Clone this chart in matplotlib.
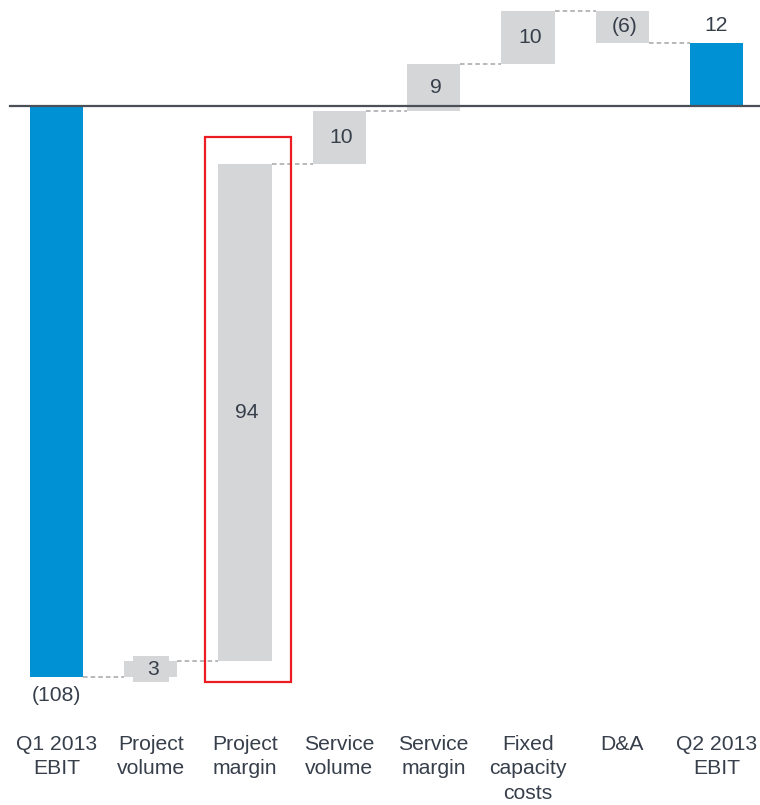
import numpy as np
import matplotlib
matplotlib.use("Agg")
import matplotlib.pyplot as plt
from matplotlib.patches import Rectangle

plt.rcParams['font.family'] = ['Liberation Sans', 'DejaVu Sans']

# ---- data ----
categories = ["Q1 2013\nEBIT", "Project\nvolume", "Project\nmargin", "Service\nvolume",
              "Service\nmargin", "Fixed\ncapacity\ncosts", "D&A", "Q2 2013\nEBIT"]
start_value = -108
deltas = [3, 94, 10, 9, 10, -6]
end_value = 12
value_labels = ["(108)", "3", "94", "10", "9", "10", "(6)", "12"]

BLUE = "#0091d5"
GREY = "#d5d6d8"
TEXT = "#373f4b"
RED = "#ec1c24"

# bar spans (bottom, top)
bottoms, tops = [min(0, start_value)], [max(0, start_value)]
level = start_value
for d in deltas:
    bottoms.append(min(level, level + d))
    tops.append(max(level, level + d))
    level += d
bottoms.append(min(0, end_value))
tops.append(max(0, end_value))
bottoms, tops = np.array(bottoms), np.array(tops)
levels = np.concatenate([[start_value], start_value + np.cumsum(deltas), [end_value]])

x = np.arange(len(categories))
colors = [BLUE] + [GREY] * len(deltas) + [BLUE]
width = 0.565

fig = plt.figure(figsize=(7.6, 8.05), dpi=100)
ax = fig.add_axes([0, 85 / 805, 1, 720 / 805])
ax.set_xlim(-0.599, 7.46)
ax.set_ylim(-116.1, 20.05)

ax.bar(x, tops - bottoms, bottom=bottoms, width=width, color=colors, zorder=2)
ax.axhline(0, xmin=10 / 760, xmax=1, color="#4b5058", lw=1.6, zorder=3)

# dashed connectors between steps
for i in range(len(x) - 1):
    ax.plot([x[i] + width / 2, x[i + 1] - width / 2], [levels[i], levels[i]],
            ls=(0, (3, 2)), color="#a5a6a8", lw=1.1, zorder=1)

# small step gets a taller backing tile so its label fits
ax.add_patch(Rectangle((x[1] - 0.19, bottoms[1] - 0.95), 0.38, tops[1] - bottoms[1] + 1.9,
                       facecolor=GREY, edgecolor="none", zorder=2))

fs = 15.2
ax.text(x[0], bottoms[0] - 3.4, value_labels[0], ha="center", va="center", fontsize=fs, color=TEXT)
for i in range(1, 7):
    ax.text(x[i] + 0.02, (bottoms[i] + tops[i]) / 2, value_labels[i], ha="center", va="center",
            fontsize=fs, color=TEXT, zorder=4)
ax.text(x[7], tops[7] + 3.2, value_labels[7], ha="center", va="center", fontsize=fs, color=TEXT)

# highlight box round the project margin step
ax.add_patch(Rectangle((1.575, bottoms[1] - 0.95), 0.912, tops[2] - bottoms[1] + 6.08,
                       fill=False, edgecolor=RED, lw=1.6, zorder=5))

ax.set_xticks(x)
ax.set_xticklabels(categories, fontsize=fs, color=TEXT, linespacing=1.39)
ax.tick_params(axis="x", length=0, pad=10.5)
ax.set_yticks([])
for s in ax.spines.values():
    s.set_visible(False)

fig.savefig("out.png", dpi=100)
